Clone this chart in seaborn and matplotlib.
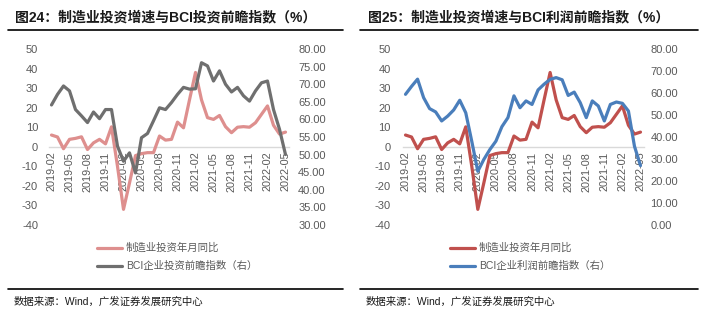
import numpy as np
import pandas as pd
import matplotlib
matplotlib.use("Agg")
import matplotlib.pyplot as plt
from matplotlib.lines import Line2D
import seaborn as sns

# ---------------- data ----------------
months = [str(p) for p in pd.period_range("2019-02", "2022-05", freq="M")]
tick_step = 3

mfg_invest_yoy = [6.0, 5.0, -1.0, 3.8, 4.3, 5.1, -1.4, 2.0, 3.8, 1.5,
                  10.2, -10.0, -32.0, -18.5, -4.5, -3.5, -3.0, -3.0, 5.5, 3.4,
                  3.8, 12.6, 9.7, 24.0, 38.0, 24.0, 14.9, 14.0, 16.0, 10.3,
                  7.2, 10.0, 10.3, 10.0, 12.3, 16.6, 20.9, 11.0, 6.5, 7.5]

bci_invest = [64.1, 67.1, 69.5, 68.1, 62.8, 61.0, 59.1, 62.1, 60.2, 62.8,
              62.8, 52.4, 48.1, 50.5, 44.8, 54.8, 56.0, 59.6, 63.3, 62.8,
              64.8, 67.1, 69.1, 68.6, 68.7, 76.1, 75.2, 70.9, 73.8, 70.0,
              67.8, 69.1, 66.7, 65.2, 68.1, 70.4, 70.9, 62.8, 57.2, 50.0]

bci_profit = [59.4, 63.0, 66.3, 57.9, 52.9, 51.4, 47.3, 49.5, 52.3, 56.7,
              51.0, 38.0, 24.4, 29.8, 34.3, 38.1, 44.7, 48.8, 58.7, 53.3,
              56.4, 54.8, 61.4, 64.0, 66.2, 67.0, 66.0, 58.9, 60.4, 55.6,
              48.8, 56.4, 54.1, 47.3, 54.8, 55.9, 55.3, 51.8, 35.8, 27.0]

left_ticks = [-40, -30, -20, -10, 0, 10, 20, 30, 40, 50]
right_ticks_24 = [30, 35, 40, 45, 50, 55, 60, 65, 70, 75, 80]
right_ticks_25 = [0, 10, 20, 30, 40, 50, 60, 70, 80]

title_24 = "图24：制造业投资增速与BCI投资前瞻指数（%）"
title_25 = "图25：制造业投资增速与BCI利润前瞻指数（%）"
label_mfg = "制造业投资年月同比"
label_bci_inv = "BCI企业投资前瞻指数（右）"
label_bci_prof = "BCI企业利润前瞻指数（右）"
source = "数据来源：Wind，广发证券发展研究中心"

# ---------------- style ----------------
sns.set_theme(style="white")
plt.rcParams["font.family"] = ["Liberation Sans", "Noto Sans CJK SC", "DejaVu Sans"]
CJK = ["Noto Sans CJK SC", "DejaVu Sans"]
TICK_C = "#595959"

W, H = 704, 325
fig = plt.figure(figsize=(W / 100, H / 100), dpi=100)
fig.patch.set_facecolor("white")

df = pd.DataFrame({"idx": np.arange(len(months)), "month": months,
                   "mfg": mfg_invest_yoy, "inv": bci_invest, "prof": bci_profit})


def px_axes(x0, x1, y_top, y_bot):
    return fig.add_axes([x0 / W, 1 - y_bot / H, (x1 - x0) / W, (y_bot - y_top) / H])


def panel(x0, x1, col_left, col_right, right_key, rticks, rpad_l, rpad_r):
    ax = px_axes(x0, x1, 49, 225)
    sns.lineplot(data=df, x="idx", y="mfg", ax=ax, color=col_left, lw=2.3,
                 legend=False, zorder=3)
    ax2 = ax.twinx()
    sns.lineplot(data=df, x="idx", y=right_key, ax=ax2, color=col_right, lw=2.3,
                 legend=False, zorder=3)

    ax.set_xlim(-0.5, len(months) - 0.5)
    ax.set_ylim(-40, 50)
    ax.set_yticks(left_ticks)
    ax.set_yticklabels([str(t) for t in left_ticks])
    pos = list(range(0, len(months), tick_step))
    ax.set_xticks(pos)
    ax.set_xticklabels([months[i] for i in pos])
    for lab in ax.get_xticklabels():
        lab.set_rotation(90)
        lab.set_ha("center")
        lab.set_va("top")
    ax.set_xlabel("")
    ax.set_ylabel("")
    for s in ["top", "right", "left"]:
        ax.spines[s].set_visible(False)
    ax.spines["bottom"].set_position(("data", 0))
    ax.spines["bottom"].set_color("#d9d9d9")
    ax.spines["bottom"].set_linewidth(1.0)
    ax.tick_params(axis="x", length=0, pad=3.5, labelsize=7.8, labelcolor=TICK_C,
                   labelrotation=90)
    ax.tick_params(axis="y", length=0, pad=rpad_l, labelsize=8, labelcolor=TICK_C)
    ax.set_facecolor("none")
    ax.grid(False)

    ax2.set_xlim(-0.5, len(months) - 0.5)
    ax2.set_ylim(rticks[0], rticks[-1])
    ax2.set_yticks(rticks)
    ax2.set_yticklabels([f"{t:.2f}" for t in rticks])
    ax2.set_ylabel("")
    ax2.set_xlabel("")
    for s in ax2.spines.values():
        s.set_visible(False)
    ax2.tick_params(axis="y", length=0, pad=rpad_r, labelsize=8, labelcolor=TICK_C)
    ax2.grid(False)
    return ax, ax2


# left panel
panel(48.5, 288.5, "#de8f8e", "#6f6f6f", "inv", right_ticks_24, 7.5, 7)
# right panel
panel(402.5, 643.5, "#c0504d", "#4a7ebb", "prof", right_ticks_25, 8.5, 5)


def add_legend(x_left, col_left, col_right, lab_right):
    handles = [Line2D([], [], color=col_left, lw=2.3),
               Line2D([], [], color=col_right, lw=2.3)]
    leg = fig.legend(handles, [label_mfg, lab_right], loc="upper left",
                     bbox_to_anchor=(x_left / W, 1 - 243 / H), frameon=False,
                     borderpad=0, borderaxespad=0, handlelength=2.4,
                     handletextpad=0.35, labelspacing=0.75,
                     prop={"family": CJK, "size": 7.5})
    for t in leg.get_texts():
        t.set_color(TICK_C)
        t.set_fontfamily(["Liberation Sans", "Noto Sans CJK SC"])


add_legend(97, "#de8f8e", "#6f6f6f", label_bci_inv)
add_legend(450, "#c0504d", "#4a7ebb", label_bci_prof)

# titles & rules
for x_txt, txt, xl0, xl1 in [(15, title_24, 8, 343), (368, title_25, 360, 698)]:
    fig.text(x_txt / W, 1 - 17 / H, txt, ha="left", va="center",
             fontsize=10, fontweight="bold", color="#1a1a1a",
             family=["Liberation Sans", "Noto Sans CJK SC"])
    fig.add_artist(Line2D([xl0 / W, xl1 / W], [1 - 30 / H] * 2,
                          color="black", lw=1.2))
    fig.add_artist(Line2D([xl0 / W, xl1 / W], [1 - 289 / H] * 2,
                          color="black", lw=1.2))
    fig.text((xl0 + 6) / W, 1 - 302 / H, source, ha="left", va="center",
             fontsize=7.5, color="#1a1a1a",
             family=["Liberation Sans", "Noto Sans CJK SC"])

fig.savefig("out.png", dpi=100, facecolor="white")
